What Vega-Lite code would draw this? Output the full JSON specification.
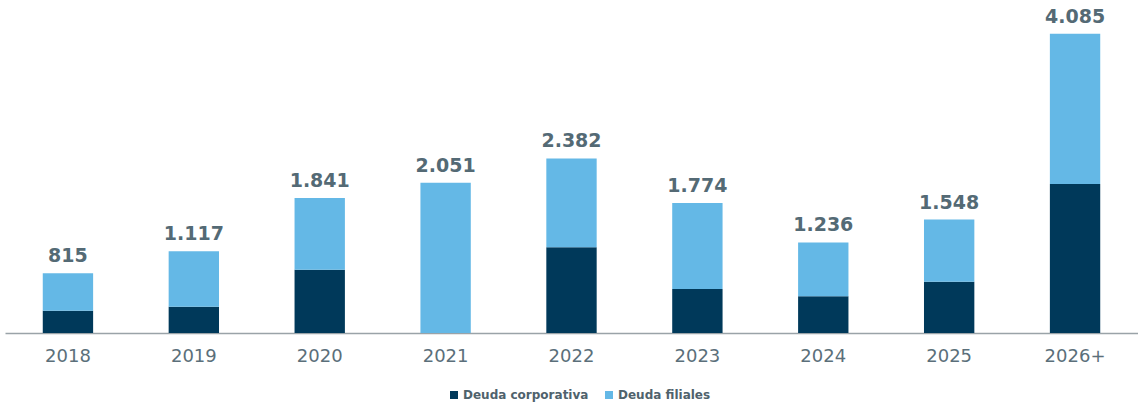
{
  "$schema": "https://vega.github.io/schema/vega-lite/v6.json",
  "width": 1133,
  "height": 333,
  "autosize": {"type": "none"},
  "padding": {"left": 5, "top": 0, "right": 0, "bottom": 73},
  "background": "white",
  "data": {
    "values": [
      {"year": "2018", "type": "Deuda corporativa", "value": 305},
      {"year": "2018", "type": "Deuda filiales", "value": 510},
      {"year": "2019", "type": "Deuda corporativa", "value": 359},
      {"year": "2019", "type": "Deuda filiales", "value": 758},
      {"year": "2020", "type": "Deuda corporativa", "value": 864},
      {"year": "2020", "type": "Deuda filiales", "value": 977},
      {"year": "2021", "type": "Deuda corporativa", "value": 0},
      {"year": "2021", "type": "Deuda filiales", "value": 2051},
      {"year": "2022", "type": "Deuda corporativa", "value": 1169},
      {"year": "2022", "type": "Deuda filiales", "value": 1213},
      {"year": "2023", "type": "Deuda corporativa", "value": 601},
      {"year": "2023", "type": "Deuda filiales", "value": 1173},
      {"year": "2024", "type": "Deuda corporativa", "value": 500},
      {"year": "2024", "type": "Deuda filiales", "value": 736},
      {"year": "2025", "type": "Deuda corporativa", "value": 700},
      {"year": "2025", "type": "Deuda filiales", "value": 848},
      {"year": "2026+", "type": "Deuda corporativa", "value": 2034},
      {"year": "2026+", "type": "Deuda filiales", "value": 2051}
    ]
  },
  "encoding": {
    "x": {
      "field": "year",
      "type": "nominal",
      "sort": null,
      "scale": {"paddingInner": 0.6, "paddingOuter": 0.3},
      "axis": {
        "title": null,
        "labelAngle": 0,
        "labelFont": "DejaVu Sans",
        "labelFontSize": 18,
        "labelColor": "#5b6f7a",
        "labelPadding": 14,
        "ticks": false,
        "domainColor": "#9aa3a8",
        "domainWidth": 1.5,
        "grid": false
      }
    }
  },
  "layer": [
    {
      "mark": {"type": "bar"},
      "encoding": {
        "y": {
          "field": "value",
          "type": "quantitative",
          "aggregate": "sum",
          "stack": "zero",
          "scale": {"domain": [0, 4545], "nice": false},
          "axis": null
        },
        "order": {"field": "type", "type": "nominal", "sort": "ascending"},
        "color": {
          "field": "type",
          "type": "nominal",
          "scale": {
            "domain": ["Deuda corporativa", "Deuda filiales"],
            "range": ["#00395a", "#64b8e6"]
          },
          "legend": {
            "title": null,
            "orient": "none",
            "direction": "horizontal",
            "legendX": 443,
            "legendY": 389,
            "symbolType": "square",
            "symbolSize": 64,
            "symbolStrokeWidth": 0,
            "labelFont": "DejaVu Sans",
            "labelFontSize": 12,
            "labelFontWeight": "bold",
            "labelColor": "#4f626c",
            "labelOffset": 3,
            "columnPadding": 14
          }
        }
      }
    },
    {
      "mark": {
        "type": "text",
        "baseline": "bottom",
        "dy": -7,
        "font": "DejaVu Sans",
        "fontSize": 19,
        "fontWeight": "bold",
        "color": "#546a75"
      },
      "encoding": {
        "y": {"field": "value", "type": "quantitative", "aggregate": "sum"},
        "text": {"field": "value", "type": "quantitative", "aggregate": "sum", "format": ",d"}
      }
    }
  ],
  "config": {
    "view": {"stroke": null},
    "locale": {
      "number": {"decimal": ",", "thousands": ".", "grouping": [3], "currency": ["", " €"]}
    }
  }
}
